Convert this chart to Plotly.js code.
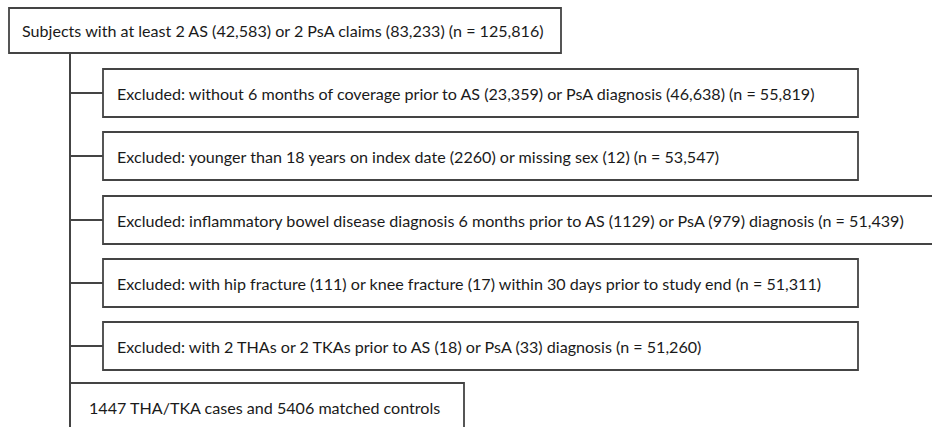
<!DOCTYPE html>
<html>
<head>
<meta charset="utf-8">
<script src="https://cdn.plot.ly/plotly-3.0.1.min.js"></script>
<style>html,body{margin:0;padding:0;background:#fff;}#chart{width:932px;height:427px;}</style>
</head>
<body>
<div id="chart"></div>
<script>
// Flowchart content
const startLabel = "Subjects with at least 2 AS (42,583) or 2 PsA claims (83,233) (n = 125,816)";
const exclusionLabels = [
  "Excluded: without 6 months of coverage prior to AS (23,359) or PsA diagnosis (46,638) (n = 55,819)",
  "Excluded: younger than 18 years on index date (2260) or missing sex (12) (n = 53,547)",
  "Excluded: inflammatory bowel disease diagnosis 6 months prior to AS (1129) or PsA (979) diagnosis (n = 51,439)",
  "Excluded: with hip fracture (111) or knee fracture (17) within 30 days prior to study end (n = 51,311)",
  "Excluded: with 2 THAs or 2 TKAs prior to AS (18) or PsA (33) diagnosis (n = 51,260)"
];
const finalLabel = "1447 THA/TKA cases and 5406 matched controls";

// Layout geometry (pixels)
const W = 932, H = 427;
const spineX = 70;
const startBox = {x0: 9, x1: 561, y0: 8, y1: 53};
const exclLeft = 103;
const exclRights = [858, 858, 940, 858, 858];
const exclTops = [69, 132, 196, 259, 322];
const exclH = 48;
const finalBox = {x0: 70, x1: 464, y0: 383, y1: 440};

const lineColor = "#444";
const font = {family: "Lato, 'Open Sans', sans-serif", size: 16.1, color: "#1a1a1a"};

const shapes = [];
const annotations = [];

function box(b) {
  shapes.push({type: "rect", xref: "x", yref: "y", x0: b.x0, x1: b.x1, y0: b.y0, y1: b.y1,
    line: {color: lineColor, width: 1.8}, fillcolor: "rgba(0,0,0,0)", layer: "above"});
}
function label(text, x, y) {
  annotations.push({text: text, x: x, y: y, xref: "x", yref: "y", xanchor: "left", yanchor: "middle",
    showarrow: false, font: font});
}

box(startBox);
label(startLabel, startBox.x0 + 11, (startBox.y0 + startBox.y1) / 2);

// spine
shapes.push({type: "line", xref: "x", yref: "y", x0: spineX, x1: spineX, y0: startBox.y1, y1: H + 5,
  line: {color: lineColor, width: 2}});

exclusionLabels.forEach((t, i) => {
  const b = {x0: exclLeft, x1: exclRights[i], y0: exclTops[i], y1: exclTops[i] + exclH};
  box(b);
  const ym = (b.y0 + b.y1) / 2;
  shapes.push({type: "line", xref: "x", yref: "y", x0: spineX, x1: exclLeft, y0: ym, y1: ym,
    line: {color: lineColor, width: 2}});
  label(t, exclLeft + 12, ym);
});

box(finalBox);
label(finalLabel, finalBox.x0 + 17, 407);

const layout = {
  width: W, height: H,
  margin: {l: 0, r: 0, t: 0, b: 0},
  paper_bgcolor: "#fff", plot_bgcolor: "#fff",
  showlegend: false,
  xaxis: {range: [0, W], visible: false, fixedrange: true},
  yaxis: {range: [H, 0], visible: false, fixedrange: true},
  shapes: shapes,
  annotations: annotations
};

Plotly.newPlot("chart", [{x: [], y: [], type: "scatter", mode: "markers", hoverinfo: "skip"}], layout,
  {staticPlot: true, displayModeBar: false});
</script>
</body>
</html>
